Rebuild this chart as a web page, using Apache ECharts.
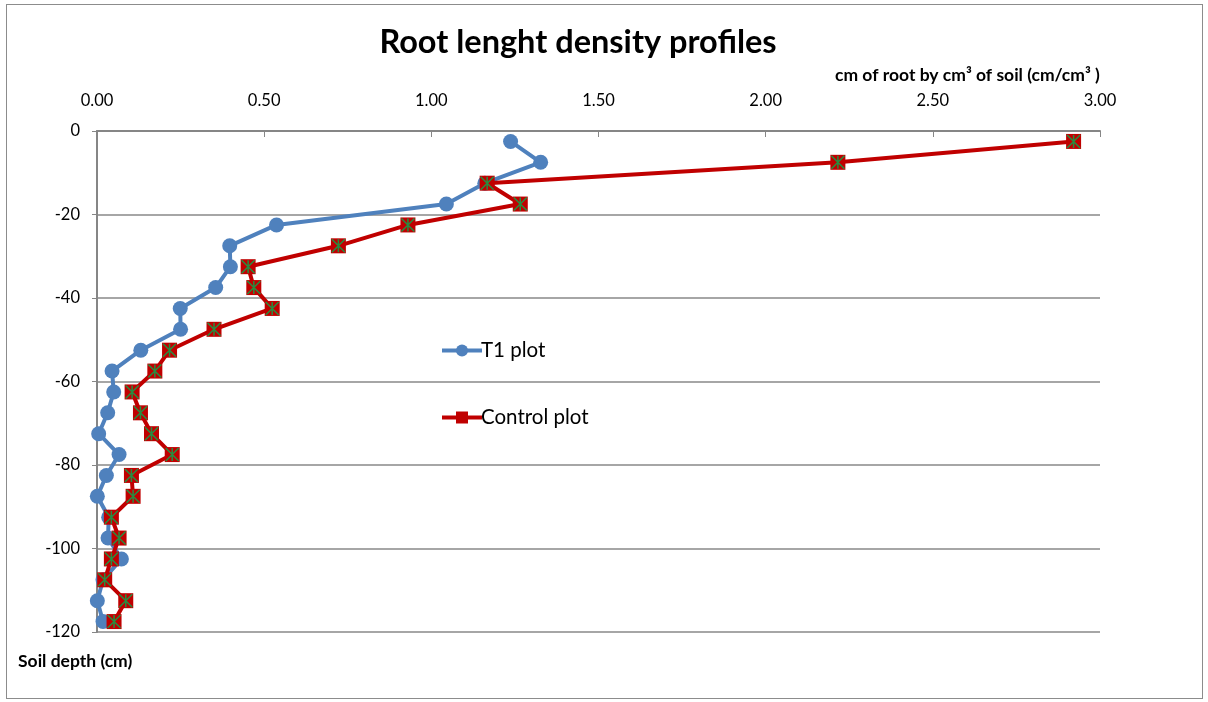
<!DOCTYPE html>
<html>
<head>
<meta charset="utf-8">
<script src="https://cdn.jsdelivr.net/npm/echarts@6/dist/echarts.min.js"></script>
<style>
  html, body { margin: 0; padding: 0; background: #fff; }
  #frame { position: absolute; left: 6px; top: 4px; width: 1197px; height: 695px; border: 1px solid #8c8c8c; box-sizing: border-box; }
  #chart { width: 1208px; height: 702px; }
</style>
</head>
<body>
<div id="frame"></div>
<div id="chart"></div>
<script>
// soil depth (cm) for each sampled layer
const depths = [-2.5, -7.5, -12.5, -17.5, -22.5, -27.5, -32.5, -37.5, -42.5, -47.5, -52.5, -57.5,
  -62.5, -67.5, -72.5, -77.5, -82.5, -87.5, -92.5, -97.5, -102.5, -107.5, -112.5, -117.5];
// root length density (cm/cm3)
const t1Values = [1.237, 1.327, 1.16, 1.045, 0.537, 0.397, 0.399, 0.355, 0.249, 0.25, 0.131, 0.045,
  0.05, 0.032, 0.005, 0.066, 0.028, 0.001, 0.035, 0.033, 0.073, 0.018, 0.001, 0.018];
const controlValues = [2.921, 2.216, 1.167, 1.266, 0.93, 0.722, 0.452, 0.469, 0.524, 0.35, 0.217, 0.173,
  0.105, 0.13, 0.163, 0.225, 0.103, 0.108, 0.043, 0.066, 0.043, 0.023, 0.086, 0.051];
const xTicks = [0, 0.5, 1, 1.5, 2, 2.5, 3];
const yTicks = [0, -20, -40, -60, -80, -100, -120];

const font = 'Lato, "Open Sans", sans-serif';
const pairs = vals => vals.map((v, i) => [v, depths[i]]);
const starPath = 'path://M0,0L10,10M10,0L0,10M5,0L5,10';

const myChart = echarts.init(document.getElementById('chart'));
myChart.setOption({
  animation: false,
  textStyle: { fontFamily: font },
  title: {
    text: 'Root lenght density profiles',
    left: 573,
    textAlign: 'center',
    top: 21,
    textStyle: { fontSize: 32.5, fontWeight: 'bold', color: '#000', fontFamily: font },
  },
  graphic: [
    {
      type: 'text', left: 835, top: 66,
      style: { text: 'cm of root by cm³ of soil (cm/cm³ )', font: 'bold 17.5px ' + font, fill: '#000' },
    },
    {
      type: 'text', left: 18, top: 652,
      style: { text: 'Soil depth (cm)', font: 'bold 17.5px ' + font, fill: '#000' },
    },
  ],
  legend: {
    orient: 'vertical',
    left: 435,
    top: 335,
    itemWidth: 40,
    itemHeight: 15,
    itemGap: 46,
    data: ['T1 plot', 'Control plot'],
    lineStyle: { width: 4 },
    textStyle: { fontSize: 20.5, color: '#000', fontFamily: font, padding: [0, 0, 0, -6] },
  },
  grid: { left: 97, top: 131, width: 1003, height: 501 },
  xAxis: {
    type: 'value',
    position: 'top',
    min: xTicks[0],
    max: xTicks[xTicks.length - 1],
    interval: 0.5,
    axisLine: { show: true, lineStyle: { color: '#868686', width: 2 } },
    axisTick: { show: true, inside: true, length: 6, lineStyle: { color: '#868686' } },
    axisLabel: { formatter: v => v.toFixed(2), fontSize: 16.5, color: '#000', margin: 22 },
    splitLine: { show: false },
  },
  yAxis: {
    type: 'value',
    min: yTicks[yTicks.length - 1],
    max: yTicks[0],
    interval: 20,
    axisLine: { show: true, lineStyle: { color: '#868686', width: 2 } },
    axisTick: { show: true, length: 5, lineStyle: { color: '#868686' } },
    axisLabel: { fontSize: 16.5, color: '#000', margin: 17 },
    splitLine: { show: true, lineStyle: { color: '#a6a6a6', width: 2 } },
  },
  series: [
    {
      name: 'T1 plot',
      type: 'line',
      data: pairs(t1Values),
      symbol: 'circle',
      symbolSize: 15,
      lineStyle: { color: '#4f81bd', width: 4 },
      itemStyle: { color: '#4f81bd' },
      z: 2,
    },
    {
      name: 'Control plot',
      type: 'line',
      data: pairs(controlValues),
      symbol: 'rect',
      symbolSize: 15,
      lineStyle: { color: '#c00000', width: 4 },
      itemStyle: { color: '#c00000' },
      z: 3,
    },
    {
      name: 'Control star',
      type: 'scatter',
      data: pairs(controlValues),
      symbol: starPath,
      symbolSize: 13,
      itemStyle: { color: 'transparent', borderColor: '#00b050', borderWidth: 1.5 },
      silent: true,
      z: 4,
    },
  ],
});
</script>
</body>
</html>
